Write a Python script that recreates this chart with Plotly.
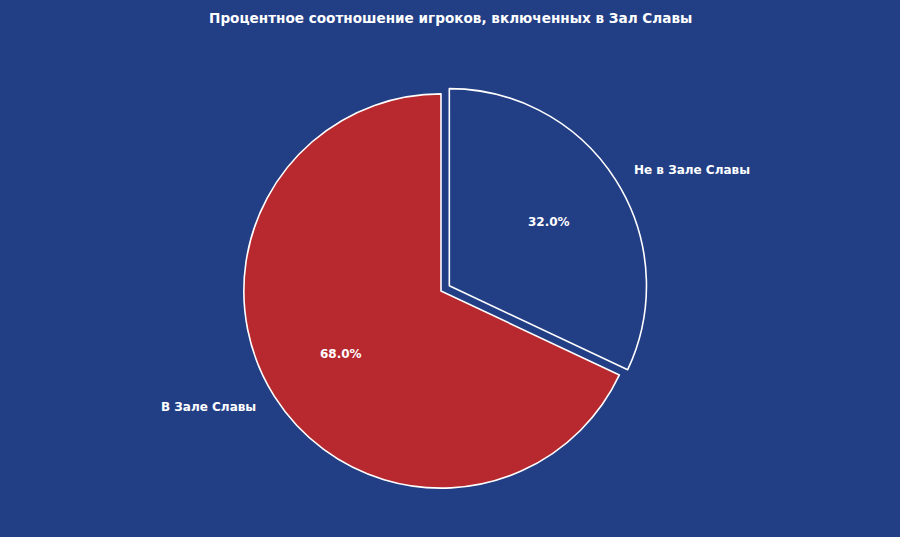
import math
import plotly.graph_objects as go

title = "Процентное соотношение игроков, включенных в Зал Славы"
labels = ["Не в Зале Славы", "В Зале Славы"]
values = [32.0, 68.0]
pulls = [0.05, 0.0]

BG = "#223E85"
colors = ["#223E85", "#B8292F"]

W, H = 900, 537
# pie box in pixels
box_l, box_r, box_t, box_b = 0, 882, 84, 498
cx = (box_l + box_r) / 2
cy = (box_t + box_b) / 2
maxpull = max(pulls)
r = min(box_r - box_l, box_b - box_t) / (2 * (1 + maxpull))

fig = go.Figure(go.Pie(
    labels=labels, values=values, sort=False, direction="clockwise", rotation=0,
    pull=pulls, textinfo="none", hoverinfo="label+percent",
    marker=dict(colors=colors, line=dict(color="white", width=1.6)),
    domain=dict(x=[box_l / W, box_r / W], y=[1 - box_b / H, 1 - box_t / H]),
    showlegend=False,
))

font = dict(family="DejaVu Sans", size=12, color="white", weight="bold")
total = sum(values)
start = 90.0
annotations = []
for lab, v, p in zip(labels, values, pulls):
    span = 360.0 * v / total
    mid = math.radians(start - span / 2)
    start -= span
    ox = cx + p * r * math.cos(mid)
    oy = cy - p * r * math.sin(mid)
    lx = ox + 1.1 * r * math.cos(mid)
    ly = oy - 1.1 * r * math.sin(mid)
    px_ = ox + 0.6 * r * math.cos(mid)
    py_ = oy - 0.6 * r * math.sin(mid)
    annotations.append(dict(x=lx / W, y=1 - ly / H, xref="paper", yref="paper",
                            text=lab, showarrow=False, font=font,
                            xanchor="left" if math.cos(mid) > 0 else "right", yanchor="middle"))
    annotations.append(dict(x=px_ / W, y=1 - py_ / H, xref="paper", yref="paper",
                            text=f"{v / total * 100:.1f}%", showarrow=False, font=font,
                            xanchor="center", yanchor="middle"))

annotations.append(dict(x=0.5, y=1 - 18 / H, xref="paper", yref="paper", text=title,
                        showarrow=False, font=dict(family="DejaVu Sans", size=13.6, color="white", weight="bold"),
                        xanchor="center", yanchor="middle"))

fig.update_layout(
    width=W, height=H, paper_bgcolor=BG, plot_bgcolor=BG,
    margin=dict(l=0, r=0, t=0, b=0), annotations=annotations,
)
fig.write_html("out.html", config={"displayModeBar": False},
               post_script="document.body.style.margin='0';document.body.style.padding='0';document.body.style.overflow='hidden';")
